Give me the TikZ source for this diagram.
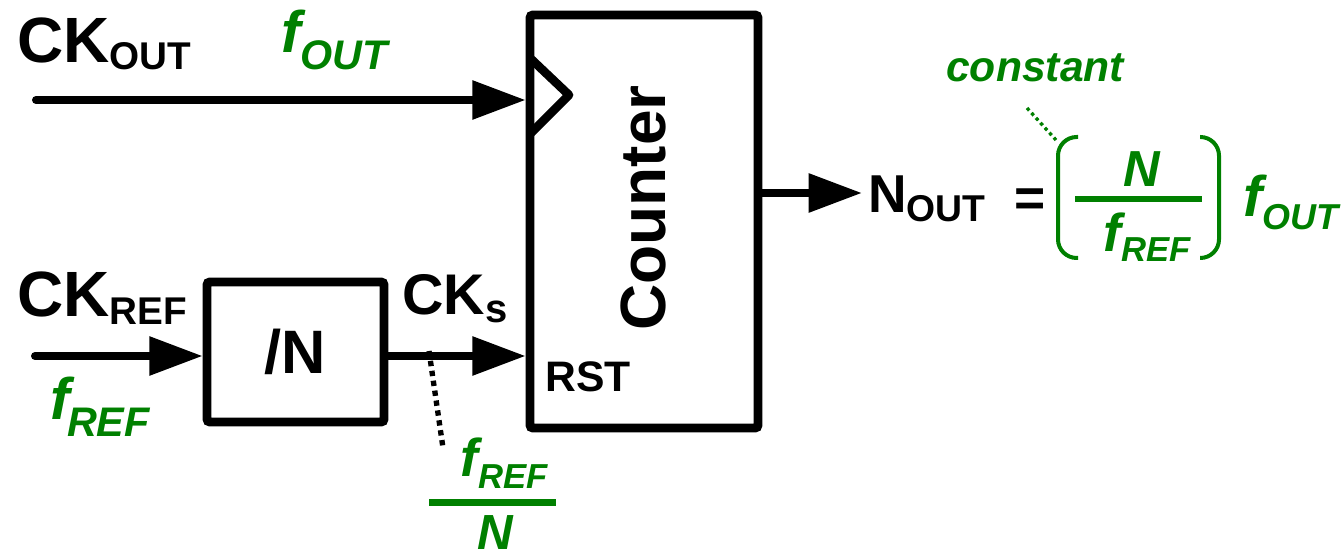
\documentclass[tikz,border=0pt]{standalone}
\usepackage{fontspec}
\setmainfont{Liberation Sans}
\usetikzlibrary{arrows.meta}
\definecolor{grn}{RGB}{0,128,0}
\newcommand\myfs[1]{\fontsize{#1}{#1}\selectfont}
\tikzset{
  wire/.style={line width=6.5pt, line cap=round},
  arr/.style={line width=6pt, line cap=round, -{Triangle[length=40pt,width=28pt]}},
  blk/.style={draw, line width=6.5pt, rounded corners=2pt, inner sep=0pt},
  lbl/.style={inner sep=0pt, anchor=base west, font=\bfseries},
  glbl/.style={inner sep=0pt, anchor=base west, text=grn, font=\bfseries\itshape},
  dotblk/.style={line width=4pt, dash pattern=on 4pt off 3.5pt},
  dotgrn/.style={draw=grn, line width=2.5pt, dash pattern=on 2.5pt off 2.5pt},
  brk/.style={draw=grn, line width=3pt, rounded corners=14pt},
  frl/.style={draw=grn, line width=5pt}
}
\begin{document}
\begin{tikzpicture}[x=0.75pt,y=-0.75pt]
\useasboundingbox (0,0) rectangle (1343,559);

% blocks
\node[blk, minimum width=171pt, minimum height=309.75pt] (ctr) at (644,221.5) {};
\node[rotate=90, inner sep=0pt, font=\bfseries\myfs{48pt}] (ctrtxt) at (643,208) {Counter};
\node[blk, minimum width=132.75pt, minimum height=105pt, font=\bfseries\myfs{46pt}] (div) at (295.5,352) {/N};

% clock triangle
\draw[wire, line join=round, line cap=butt] (530,58) -- (569,95) -- (530,134);

% labels
\node[lbl] (ckout) at (17,63) {\myfs{48pt}CK\raisebox{-5.25pt}{\myfs{29pt}OUT}};
\node[glbl] (fout) at (281,53) {\myfs{44pt}f\raisebox{-12.75pt}{\myfs{31pt}OUT}};
\node[lbl] (ckref) at (17,317) {\myfs{48pt}CK\raisebox{-6pt}{\myfs{29pt}REF}};
\node[glbl] (fref) at (50,420) {\myfs{44pt}f\kern-2pt\raisebox{-12.75pt}{\myfs{31pt}REF}};
\node[lbl] (cks) at (402,315) {\myfs{43pt}CK\raisebox{-6pt}{\myfs{30pt}s}};
\node[lbl] (rst) at (545,392) {\myfs{32pt}RST};

% connectors
\coordinate (ckoutin) at (36,100);
\coordinate (ckrefin) at (35,356);
\coordinate (sy) at (0,356);
\coordinate (nouttip) at (862,193);
\draw[arr] (ckoutin) -- (ctr.west |- ckoutin);
\draw[arr] (ckrefin) -- (div.west |- ckrefin);
\draw[arr] (div.east |- sy) -- (ctr.west |- sy);
\draw[arr] (ctr.east |- nouttip) -- (nouttip);

% dotted pointer to f_REF/N
\coordinate (dA) at (429,351);
\coordinate (dB) at (443,448);
\draw[dotblk] (dA) -- (dB);

% f_REF / N fraction
\node[glbl] (frefn) at (460,477) {\myfs{40pt}f\raisebox{-9pt}{\myfs{26pt}REF}};
\coordinate (fl1) at (429,502.5);
\coordinate (fl2) at (556,502.5);
\draw[frl] (fl1) -- (fl2);
\node[glbl] (nden) at (477,550) {\myfs{37pt}N};

% output equation
\node[lbl] (nout) at (868,213) {\myfs{40pt}N\raisebox{-6.75pt}{\myfs{28pt}OUT}};
\node[inner sep=0pt, font=\bfseries\myfs{40pt}] (eq) at (1030,202.5) {=};
\draw[brk] (1078,137) -- (1058,137) -- (1058,258) -- (1078,258);
\draw[brk] (1200,137) -- (1219,137) -- (1219,258) -- (1200,258);
\node[glbl] (nnum) at (1123,187) {\myfs{38pt}N};
\coordinate (fr1) at (1075,199);
\coordinate (fr2) at (1202,199);
\draw[frl] (fr1) -- (fr2);
\node[glbl] (frefd) at (1103,252) {\myfs{40pt}f\raisebox{-7.5pt}{\myfs{26pt}REF}};
\node[glbl] (fout2) at (1243,217) {\myfs{43pt}f\raisebox{-9.75pt}{\myfs{27pt}OUT}};

\node[glbl] (const) at (946,82) {\myfs{32pt}constant};
\coordinate (cA) at (1027,108);
\coordinate (cB) at (1056,140);
\draw[dotgrn] (cA) -- (cB);
\end{tikzpicture}
\end{document}
